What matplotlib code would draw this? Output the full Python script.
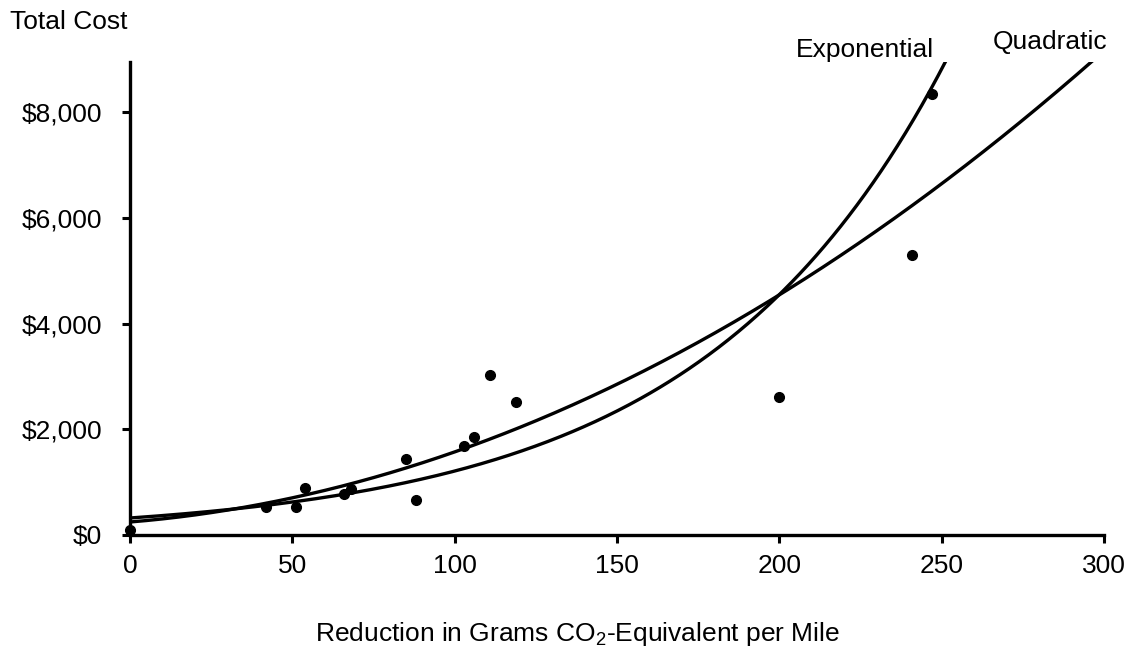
import numpy as np
import matplotlib
matplotlib.use("Agg")
import matplotlib.pyplot as plt

plt.rcParams['font.family'] = ['Liberation Sans', 'DejaVu Sans']
plt.rcParams['mathtext.fontset'] = 'custom'
plt.rcParams['mathtext.rm'] = 'Liberation Sans'
plt.rcParams['mathtext.it'] = 'Liberation Sans'

# Data points (reduction g CO2-eq/mile, total cost $)
reduction = [0, 42, 51, 54, 66, 68, 85, 88, 103, 106, 111, 119, 200, 241, 247]
cost = [100, 530, 530, 890, 780, 870, 1440, 660, 1690, 1860, 3030, 2520, 2610, 5300, 8350]

# Fitted trend-curve coefficients
quad_coef = [246, 5.03, 0.0823]      # c0 + c1*x + c2*x^2
exp_coef = [322, 0.01324]            # a * exp(b*x)

x_ticks = [0, 50, 100, 150, 200, 250, 300]
y_ticks = [0, 2000, 4000, 6000, 8000]
y_tick_labels = ['\\$0', '\\$2,000', '\\$4,000', '\\$6,000', '\\$8,000']

W, H = 1135, 649
fig = plt.figure(figsize=(W / 100, H / 100), dpi=100)
ax = fig.add_axes([130 / W, 1 - 535 / H, (1104 - 130) / W, (535 - 62) / H])

xs = np.linspace(0, 300, 600)
ax.plot(xs, quad_coef[0] + quad_coef[1] * xs + quad_coef[2] * xs ** 2, color='black', lw=2.4)
ax.plot(xs, exp_coef[0] * np.exp(exp_coef[1] * xs), color='black', lw=2.4)
ax.plot(reduction, cost, 'o', color='black', ms=7, clip_on=False, zorder=5)

ax.set_xlim(0, 300)
ax.set_ylim(0, 8950)
ax.set_xticks(x_ticks)
ax.set_xticklabels([str(v) for v in x_ticks])
ax.set_yticks(y_ticks)
ax.set_yticklabels(y_tick_labels)
ax.tick_params(axis='both', labelsize=19, width=2.2, length=6, direction='out', color='black')
ax.tick_params(axis='x', pad=8)
ax.tick_params(axis='y', pad=14)
for s in ['top', 'right']:
    ax.spines[s].set_visible(False)
for s in ['left', 'bottom']:
    ax.spines[s].set_linewidth(2.4)

ax.text(226.4, 9180, 'Exponential', fontsize=19, ha='center', va='center', clip_on=False)
ax.text(283.3, 9330, 'Quadratic', fontsize=19, ha='center', va='center', clip_on=False)

fig.text(10 / W, 1 - 22 / H, 'Total Cost', fontsize=19, ha='left', va='center')
fig.text(578 / W, 1 - 634 / H, 'Reduction in Grams CO$_2$-Equivalent per Mile', fontsize=19,
         ha='center', va='center')

fig.savefig('out.png', dpi=100)
